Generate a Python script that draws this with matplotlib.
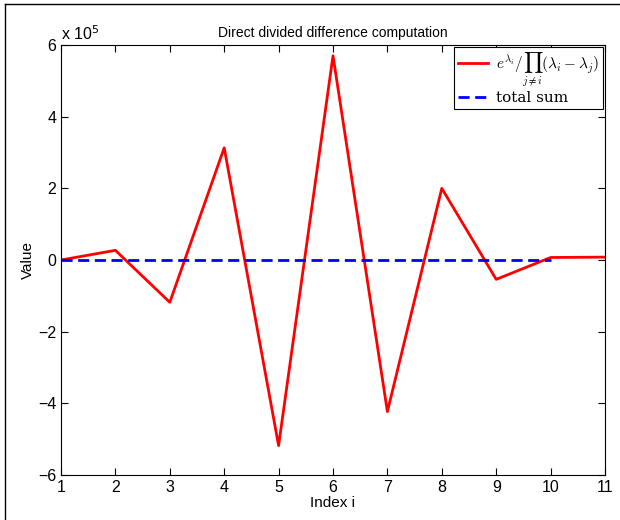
import matplotlib
matplotlib.use('Agg')
import matplotlib.pyplot as plt
import numpy as np
from matplotlib.ticker import FuncFormatter
from matplotlib.lines import Line2D

plt.rcParams['font.family'] = 'Liberation Sans'
plt.rcParams['mathtext.fontset'] = 'cm'

# data (values in units of 1e5)
idx = np.arange(1, 12)
terms = [0.0, 0.27, -1.18, 3.13, -5.18, 5.70, -4.23, 2.00, -0.54, 0.07, 0.08]
total_x = np.arange(1, 11)
total_sum = [0.0] * 10
scale = 1e5

fig = plt.figure(figsize=(6.2, 5.2), dpi=100)
ax = fig.add_axes([61/620, 1 - 475/520, (605 - 61)/620, (475 - 45)/520])

ax.plot(idx, np.array(terms) * scale, color='red', lw=2,
        label=r'$e^{\lambda_i}/\prod_{j\neq i}(\lambda_i - \lambda_j)$')
ax.plot(total_x, np.array(total_sum) * scale, color='blue', lw=2, ls=(0, (4, 2)),
        label='total sum')

ax.set_xlim(1, 11)
ax.set_ylim(-6e5, 6e5)
ax.set_xticks(range(1, 12))
ax.set_yticks(np.arange(-6, 7, 2) * scale)
ax.yaxis.set_major_formatter(
    FuncFormatter(lambda v, p: ('%g' % (v / scale)).replace('-', '\u2212')))
ax.tick_params(direction='in', top=True, right=True, labelsize=11.5, length=5)
ax.text(0, 1.005, r'x 10$^{5}$', transform=ax.transAxes, fontsize=11.5,
        ha='left', va='bottom', math_fontfamily='dejavusans')

ax.set_xlabel('Index i', fontsize=11, labelpad=1)
ax.set_ylabel('Value', fontsize=11, labelpad=2)
ax.set_title('Direct divided difference computation', fontsize=10, pad=6)

leg = ax.legend(loc='upper right', framealpha=1, fancybox=False,
                edgecolor='black', borderpad=0.25, handlelength=2.0,
                handletextpad=0.5, labelspacing=0.15, borderaxespad=0.15,
                prop={'family': 'DejaVu Serif', 'size': 11})
leg.get_frame().set_linewidth(0.8)

# figure frame (top and left edges)
fig.add_artist(Line2D([5/620, 5/620], [0, 1 - 4/520], color='black', lw=1,
                      transform=fig.transFigure))
fig.add_artist(Line2D([5/620, 1], [1 - 4/520, 1 - 4/520], color='black', lw=1,
                      transform=fig.transFigure))

fig.savefig('out.png', dpi=100)
